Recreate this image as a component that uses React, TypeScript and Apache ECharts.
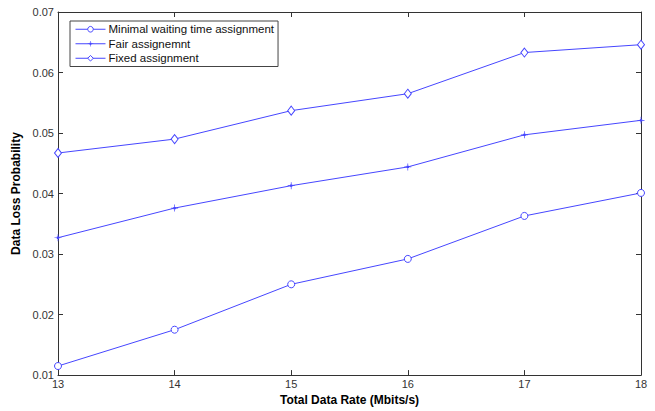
import React, { useEffect, useRef } from "react";
import * as echarts from "echarts";

const rates = [13, 14, 15, 16, 17, 18];
const minimalWaiting = [0.0115, 0.0175, 0.025, 0.0292, 0.0363, 0.0401];
const fairAssignment = [0.0327, 0.0376, 0.0413, 0.0444, 0.0497, 0.0521];
const fixedAssignment = [0.0467, 0.049, 0.0537, 0.0565, 0.0633, 0.0646];
const seriesNames = ["Minimal waiting time assignment", "Fair assignemnt", "Fixed assignment"];

const BLUE = "#4646ff";
const STAR =
  "path://M4.5,0 L5.5,0 L5.5,10 L4.5,10 Z M0,4.5 L10,4.5 L10,5.5 L0,5.5 Z M3.3,3.3 L6.7,3.3 L6.7,6.7 L3.3,6.7 Z";

export default function App() {
  const ref = useRef<HTMLDivElement>(null);
  useEffect(() => {
    if (!ref.current) return;
    const chart = echarts.init(ref.current, undefined, { renderer: "svg" });
    const font = "'Liberation Sans', Arial, sans-serif";
    const pair = (arr: number[]) => rates.map((r, i) => [r, arr[i]]);
    const axisLine = { show: true, lineStyle: { color: "#333", width: 1 } };
    const tick = { show: true, inside: true, length: 5, lineStyle: { color: "#333" } };
    const hollow = { color: "#fff", borderColor: BLUE, borderWidth: 1 };
    chart.setOption({
      animation: false,
      backgroundColor: "#fff",
      grid: { left: 58, right: 14, top: 12, bottom: 28, containLabel: false },
      legend: {
        left: 70,
        top: 21,
        orient: "vertical",
        backgroundColor: "#fff",
        borderColor: "#444",
        borderWidth: 1,
        borderRadius: 0,
        padding: [1, 4, 1, 5],
        itemGap: 0,
        itemWidth: 30,
        itemHeight: 7,
        itemStyle: { borderWidth: 1 },
        lineStyle: { width: 1 },
        textStyle: {
          fontSize: 11.5,
          lineHeight: 14.5,
          color: "#111",
          fontFamily: font,
          padding: [0, 0, 0, -2],
        },
        data: seriesNames,
      },
      xAxis: [
        {
          type: "value",
          min: 13,
          max: 18,
          interval: 1,
          position: "bottom",
          name: "Total Data Rate (Mbits/s)",
          nameLocation: "middle",
          nameGap: 14,
          nameTextStyle: { fontSize: 12, fontWeight: "bold", color: "#000", fontFamily: font },
          axisLine,
          axisTick: tick,
          axisLabel: { fontSize: 11, color: "#333", fontFamily: font, margin: 3 },
          splitLine: { show: false },
        },
        {
          type: "value",
          min: 13,
          max: 18,
          interval: 1,
          position: "top",
          axisLine,
          axisTick: tick,
          axisLabel: { show: false },
          splitLine: { show: false },
        },
      ],
      yAxis: [
        {
          type: "value",
          min: 0.01,
          max: 0.07,
          interval: 0.01,
          position: "left",
          name: "Data Loss Probability",
          nameLocation: "middle",
          nameGap: 33,
          nameTextStyle: { fontSize: 12, fontWeight: "bold", color: "#000", fontFamily: font },
          axisLine,
          axisTick: tick,
          axisLabel: {
            fontSize: 11,
            color: "#333",
            fontFamily: font,
            margin: 4,
            formatter: (v: number) => v.toFixed(2),
          },
          splitLine: { show: false },
        },
        {
          type: "value",
          min: 0.01,
          max: 0.07,
          interval: 0.01,
          position: "right",
          axisLine,
          axisTick: tick,
          axisLabel: { show: false },
          splitLine: { show: false },
        },
      ],
      series: [
        {
          name: seriesNames[0],
          type: "line",
          data: pair(minimalWaiting),
          symbol: "circle",
          symbolSize: 7,
          lineStyle: { color: BLUE, width: 1 },
          itemStyle: hollow,
        },
        {
          name: seriesNames[1],
          type: "line",
          data: pair(fairAssignment),
          symbol: STAR,
          symbolSize: 7,
          lineStyle: { color: BLUE, width: 1 },
          itemStyle: { color: BLUE, borderWidth: 0 },
        },
        {
          name: seriesNames[2],
          type: "line",
          data: pair(fixedAssignment),
          symbol: "diamond",
          symbolSize: [7, 9],
          lineStyle: { color: BLUE, width: 1 },
          itemStyle: hollow,
        },
      ],
    });
    return () => chart.dispose();
  }, []);
  return <div ref={ref} style={{ width: 655, height: 411, position: "absolute", left: 0, top: 0 }} />;
}
